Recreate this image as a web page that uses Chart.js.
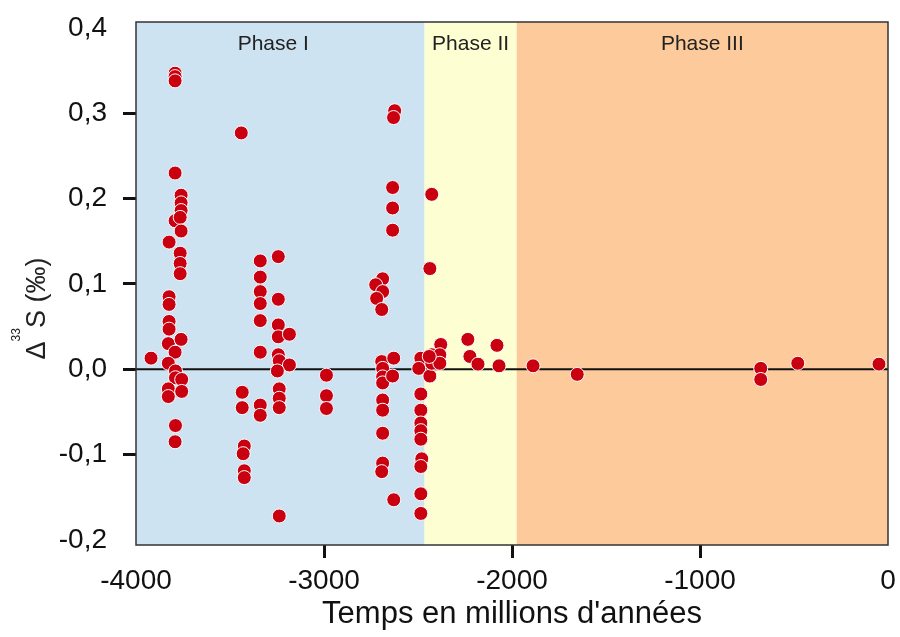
<!DOCTYPE html>
<html>
<head>
<meta charset="utf-8">
<script src="https://cdn.jsdelivr.net/npm/chart.js@4"></script>
<style>
  body { margin: 0; background: #fff; }
  canvas { display: block; }
</style>
</head>
<body>
<canvas id="chart" width="900" height="637"></canvas>
<script>
// Delta 33S vs age (Ma)

const ages = [
    -3920, -3792, -3792, -3792, -3792, -3760, -3760, -3760, -3792, -3765,
    -3760, -3824, -3765, -3765, -3765, -3824, -3824, -3824, -3824, -3828,
    -3760, -3792, -3828, -3790, -3790, -3757, -3828, -3828, -3757, -3790,
    -3792,
    -3440, -3435, -3435, -3424, -3430, -3424, -3424,
    -3339, -3339, -3339, -3339, -3339, -3339, -3339, -3339,
    -3243, -3243, -3243, -3243, -3184, -3243, -3238, -3184, -3248, -3238,
    -3238, -3238, -3238,
    -2987, -2987, -2987,
    -2688, -2725, -2688, -2720, -2693, -2693, -2688, -2688, -2688, -2688,
    -2688, -2688, -2688, -2693, -2629, -2635, -2624, -2630, -2635, -2635,
    -2635, -2629,
    -2485, -2496, -2485, -2485, -2485, -2485, -2485, -2480, -2485, -2485,
    -2485, -2427, -2437, -2437, -2427, -2427, -2379, -2384, -2384, -2440,
    -2235, -2224, -2181, -2080, -2069,
    -1888, -1653, -677, -677, -480, -48
];
const d33S = [
    0.013, 0.347, 0.343, 0.338, 0.230, 0.204, 0.195, 0.186, 0.174, 0.178,
    0.162, 0.149, 0.136, 0.124, 0.112, 0.085, 0.076, 0.056, 0.047, 0.030,
    0.035, 0.020, 0.007, -0.002, -0.010, -0.012, -0.023, -0.032, -0.026, -0.066,
    -0.085,
    0.277, -0.027, -0.045, -0.090, -0.099, -0.119, -0.127,
    0.127, 0.108, 0.091, 0.077, 0.057, 0.020, -0.042, -0.054,
    0.132, 0.082, 0.052, 0.038, 0.041, 0.017, 0.010, 0.005, -0.002, -0.023,
    -0.034, -0.045, -0.172,
    -0.007, -0.031, -0.046,
    0.106, 0.099, 0.091, 0.083, 0.070, 0.009, 0.001, -0.009, -0.016, -0.036,
    -0.048, -0.075, -0.110, -0.120, 0.013, -0.008, 0.303, 0.295, 0.213, 0.189,
    0.163, -0.153,
    0.013, 0.001, -0.029, -0.048, -0.063, -0.072, -0.082, -0.105, -0.114, -0.146,
    -0.169, 0.205, 0.118, -0.008, 0.017, 0.007, 0.029, 0.017, 0.007, 0.015,
    0.035, 0.015, 0.006, 0.028, 0.004,
    0.004, -0.006, 0.001, -0.012, 0.007, 0.006
];

const phaseNames = ['Phase I', 'Phase II', 'Phase III'];
const phaseStarts = [-4000, -2465, -1975];
const phaseEnds = [-2465, -1975, 0];
const phaseColors = ['#cde3f1', '#fefed3', '#fdca9b'];

const xTicks = [-4000, -3000, -2000, -1000, 0];
const yTicks = [-0.2, -0.1, 0.0, 0.1, 0.2, 0.3, 0.4];

const zeroLine = [{ x: -4000, y: 0 }, { x: 0, y: 0 }];

const FONT = '"Liberation Sans", Arial, sans-serif';

const points = ages.map((a, i) => ({ x: a, y: d33S[i] }));

function edgeTick(ctx) {
    const n = ctx.scale.ticks.length;
    return (ctx.index === 0 || ctx.index === n - 1) ? 'rgba(0,0,0,0)' : '#111';
}

const phasePlugin = {
    id: 'phases',
    beforeDatasetsDraw(chart) {
        const { ctx, chartArea, scales } = chart;
        ctx.save();
        phaseNames.forEach((name, i) => {
            const x1 = scales.x.getPixelForValue(phaseStarts[i]);
            const x2 = scales.x.getPixelForValue(phaseEnds[i]);
            ctx.fillStyle = phaseColors[i];
            ctx.fillRect(x1, chartArea.top, x2 - x1, chartArea.bottom - chartArea.top);
        });
        ctx.fillStyle = '#222';
        ctx.font = '21px ' + FONT;
        ctx.textAlign = 'center';
        ctx.textBaseline = 'middle';
        phaseNames.forEach((name, i) => {
            const x1 = scales.x.getPixelForValue(phaseStarts[i]);
            const x2 = scales.x.getPixelForValue(phaseEnds[i]);
            const shift = i === 0 ? -7 : 0;
            ctx.fillText(name, (x1 + x2) / 2 + shift, chartArea.top + 22);
        });
        ctx.restore();
    },
    afterDraw(chart) {
        const { ctx, chartArea } = chart;
        ctx.save();
        // frame
        ctx.strokeStyle = '#333';
        ctx.lineWidth = 1.5;
        ctx.strokeRect(chartArea.left, chartArea.top,
            chartArea.right - chartArea.left, chartArea.bottom - chartArea.top);

        // y title: Δ33S (‰)
        const cy = (chartArea.top + chartArea.bottom) / 2 + 25;
        ctx.translate(45, cy);
        ctx.rotate(-Math.PI / 2);
        ctx.fillStyle = '#222';
        ctx.textBaseline = 'alphabetic';
        ctx.textAlign = 'left';
        const big = '27px ' + FONT, small = '12px ' + FONT;
        ctx.font = big;
        const wD = ctx.measureText('\u0394').width;
        const wS = ctx.measureText('S (\u2030)').width;
        ctx.font = small;
        const w3 = ctx.measureText('33').width;
        let x = -(wD + w3 + wS) / 2;
        ctx.font = big;
        ctx.fillText('\u0394', x, 0);
        x += wD;
        ctx.font = small;
        ctx.fillText('33', x, -25);
        x += w3;
        ctx.font = big;
        ctx.fillText('S (\u2030)', x, 0);
        ctx.restore();
    }
};

new Chart(document.getElementById('chart'), {
    type: 'scatter',
    data: {
        datasets: [
            {
                label: 'Δ33S',
                data: points,
                backgroundColor: '#c8000f',
                borderColor: '#ffffff',
                borderWidth: 1,
                pointRadius: 7,
                order: 1
            },
            {
                type: 'line',
                label: 'zero',
                data: zeroLine,
                borderColor: '#111',
                borderWidth: 2,
                pointRadius: 0,
                order: 2
            }
        ]
    },
    options: {
        responsive: false,
        animation: false,
        layout: { padding: { top: 22, right: 12, left: 0, bottom: 0 } },
        plugins: {
            legend: { display: false },
            tooltip: { enabled: false }
        },
        scales: {
            x: {
                type: 'linear',
                min: -4000,
                max: 0,
                afterBuildTicks: s => { s.ticks = xTicks.map(v => ({ value: v })); },
                afterFit: s => { s.height = 92; s.paddingLeft = 0; s.paddingRight = 0; },
                border: { display: false },
                grid: { drawOnChartArea: false, tickLength: 13, lineWidth: 3, color: edgeTick },
                ticks: {
                    color: '#111',
                    padding: 6,
                    maxRotation: 0,
                    font: { family: FONT, size: 28 },
                    callback: v => String(v)
                },
                title: {
                    display: true,
                    text: "Temps en millions d'années",
                    color: '#111',
                    padding: { top: 4 },
                    font: { family: FONT, size: 31 }
                }
            },
            y: {
                min: -0.206,
                max: 0.407,
                afterBuildTicks: s => { s.ticks = yTicks.map(v => ({ value: v })); },
                afterFit: s => { s.width = 136; s.paddingTop = 0; s.paddingBottom = 0; },
                border: { display: false },
                grid: { drawOnChartArea: false, tickLength: 13, lineWidth: 3, color: edgeTick },
                ticks: {
                    color: '#111',
                    padding: 16,
                    font: { family: FONT, size: 28 },
                    callback: v => v.toFixed(1).replace('.', ',')
                }
            }
        }
    },
    plugins: [phasePlugin]
});
</script>
</body>
</html>
